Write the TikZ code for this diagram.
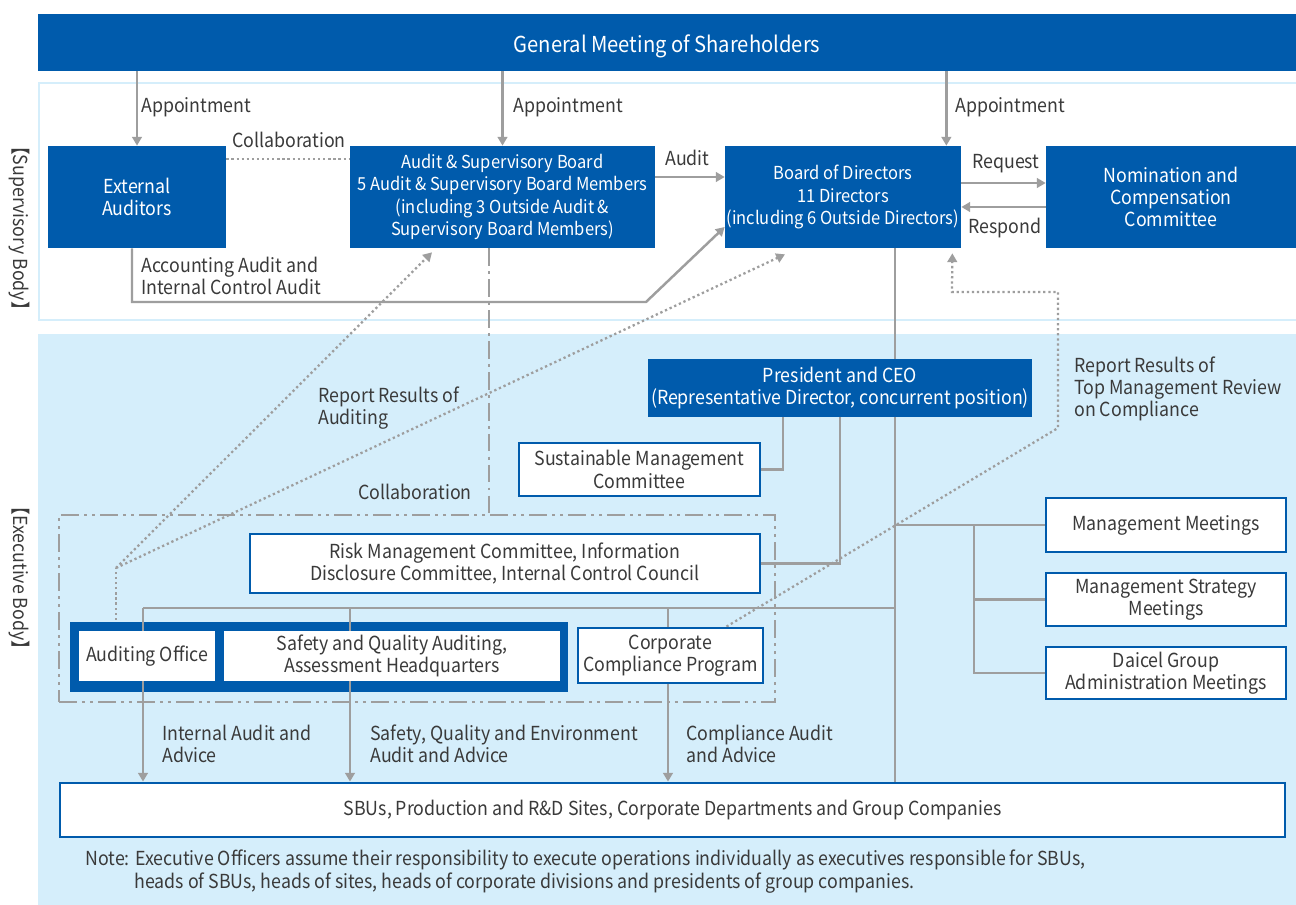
\documentclass[tikz,border=0pt]{standalone}
\usepackage{fontspec}
\setmainfont{Noto Sans CJK JP}[FakeStretch=0.92]
\usetikzlibrary{arrows.meta}
\definecolor{dblue}{RGB}{0,91,172}
\definecolor{lblue}{RGB}{213,238,251}
\definecolor{lgrey}{RGB}{158,158,158}
\definecolor{tgrey}{RGB}{58,58,58}
\pgfdeclarelayer{bg}
\pgfdeclarelayer{lines}
\pgfsetlayers{bg,lines,main}
\begin{document}
\begin{tikzpicture}[x=0.02cm,y=-0.02cm,
  font=\fontsize{11}{12.7}\selectfont,
  sz/.style 2 args={minimum width=#1*0.02cm,minimum height=#2*0.02cm},
  solidbox/.style={fill=dblue,text=white,align=center,inner sep=0pt},
  openbox/.style={fill=white,draw=dblue,line width=1.6pt,text=tgrey,align=center,inner sep=0pt},
  lbl/.style={anchor=west,text=tgrey,align=left,inner sep=0pt},
  link/.style={draw=lgrey,line width=1.4pt},
  arr/.style={link,-{Triangle[width=5.5pt,length=5pt]}},
  dotlink/.style={draw=lgrey,line width=1.3pt,dash pattern=on 1.3pt off 1.6pt},
  dotarr/.style={dotlink,-{Triangle[width=5.5pt,length=5pt]}}]
\useasboundingbox (0,0) rectangle (1296,905);
\begin{pgfonlayer}{bg}
\fill[white] (0,0) rectangle (1296,905);
\fill[lblue] (38,334) rectangle (1296,905);
\draw[lblue,line width=1.7pt] (39,83) rectangle (1298,320);
\node[fill=dblue,inner sep=0pt,sz={498}{70}] (frame) at (319,657) {};
\end{pgfonlayer}

\node[solidbox,sz={1258}{57},font=\fontsize{12.5}{14}\selectfont] (gms) at (667,42.5) {\raisebox{-0.2cm}[0pt][0pt]{General Meeting of Shareholders}};
\node[solidbox,sz={178}{102}] (ext) at (137,197) {External\\Auditors};
\node[solidbox,sz={305}{102},font=\fontsize{10.2}{12.7}\selectfont] (asb) at (502.5,197) {Audit \& Supervisory Board\\5 Audit \& Supervisory Board Members\\(including 3 Outside Audit \&\\Supervisory Board Members)};
\node[solidbox,sz={236}{102},font=\fontsize{10.2}{12.7}\selectfont] (bod) at (843,197) {Board of Directors\\11 Directors\\(including 6 Outside Directors)};
\node[solidbox,sz={250}{102}] (ncc) at (1171,197) {Nomination and\\Compensation\\Committee};
\node[solidbox,sz={384}{58}] (ceo) at (840,388) {President and CEO\\(Representative Director, concurrent position)};
\node[openbox,sz={241}{53}] (smc) at (639.5,469.5) {Sustainable Management\\Committee};
\node[openbox,sz={510}{59}] (risk) at (505,563.5) {Risk Management Committee, Information\\Disclosure Committee, Internal Control Council};
\node[fill=white,text=tgrey,align=center,inner sep=0pt,sz={136}{50}] (aud) at (147,656) {Auditing Office};
\node[fill=white,text=tgrey,align=center,inner sep=0pt,sz={336}{50}] (saf) at (392,656) {Safety and Quality Auditing,\\Assessment Headquarters};
\node[openbox,sz={185}{55}] (ccp) at (670.5,655.5) {Corporate\\Compliance Program};
\node[openbox,sz={240}{54}] (mm) at (1166,525) {Management Meetings};
\node[openbox,sz={240}{53}] (msm) at (1166,599.5) {Management Strategy\\Meetings};
\node[openbox,sz={240}{52}] (dga) at (1166,673) {Daicel Group\\Administration Meetings};
\node[openbox,sz={1225}{54}] (sbu) at (672.5,810) {SBUs, Production and R\&D Sites, Corporate Departments and Group Companies};

\node[rotate=-90,text=tgrey] (supl) at (19,228) {【Supervisory Body】};
\node[rotate=-90,text=tgrey] (exel) at (19,578) {【Executive Body】};

\node[lbl] (ap1) at (141,107) {Appointment};
\node[lbl] (ap2) at (513,107) {Appointment};
\node[lbl] (ap3) at (955,107) {Appointment};
\node[lbl] (col1) at (232,140) {Collaboration};
\node[lbl] (audl) at (665,158) {Audit};
\node[lbl] (req) at (972,164) {Request};
\node[lbl] (resp) at (968,228) {Respond};
\node[lbl] (accl) at (141,276) {Accounting Audit and\\Internal Control Audit};
\node[lbl] (repl) at (318,408) {Report Results of\\Auditing};
\node[lbl] (col2) at (358,492) {Collaboration};
\node[lbl] (topl) at (1074,389) {Report Results of\\Top Management Review\\on Compliance};
\node[lbl] (ial) at (162,744) {Internal Audit and\\Advice};
\node[lbl] (sql) at (370,744) {Safety, Quality and Environment\\Audit and Advice};
\node[lbl] (cal) at (686,744) {Compliance Audit\\and Advice};
\node[lbl,anchor=north west] (note) at (85,850) {Note: Executive Officers assume their responsibility to execute operations individually as executives responsible for SBUs,\\\hspace*{0.98cm}heads of SBUs, heads of sites, heads of corporate divisions and presidents of group companies.};

\begin{pgfonlayer}{lines}
\node[draw=lgrey,line width=1.6pt,dash pattern=on 10pt off 3pt on 1.6pt off 3pt on 1.6pt off 3pt,sz={716}{187}] (execbox) at (417,608.5) {};
\draw[arr] (gms.south -| ext.north) -- (ext.north);
\draw[arr] (gms.south -| asb.north) -- (asb.north);
\draw[arr] ([xshift=-0.3cm]bod.north east |- gms.south) -- ([xshift=-0.3cm]bod.north east);
\draw[dotlink] ([yshift=0.76cm]ext.east) -- ([yshift=0.76cm]asb.west);
\draw[arr] ([yshift=0.4cm]asb.east) -- ([yshift=0.4cm]bod.west);
\draw[arr] ([yshift=0.28cm]bod.east) -- ([yshift=0.28cm]ncc.west);
\draw[arr] ([yshift=-0.2cm]ncc.west) -- ([yshift=-0.2cm]bod.west -| bod.east);
\coordinate (accbend) at (646,302);
\draw[arr] ([xshift=-0.1cm]ext.south) |- (accbend) -- ([yshift=-0.6cm]bod.west);
\draw[link,dash pattern=on 10pt off 3pt on 1.6pt off 3pt] ([xshift=-0.27cm]asb.south) -- ([xshift=-0.27cm]asb.south |- execbox.north);
\coordinate (audtop) at (116,620);
\coordinate (audbend) at (116,568);
\draw[dotlink] (audtop) -- (audbend);
\draw[dotarr] (audbend) -- ([xshift=-1.41cm,yshift=-0.08cm]asb.south);
\draw[dotarr] (audbend) -- ([xshift=-1.16cm,yshift=-0.12cm]bod.south);
\draw[dotarr] ([xshift=1.12cm]ccp.north) -- (1058,428) |- (952,292) -- ([xshift=-0.18cm,yshift=-0.1cm]bod.south east);
\coordinate (trunk) at ([xshift=1.04cm]bod.south);
\draw[link] (trunk) -- (trunk |- sbu.north);
\draw[link] (trunk |- mm.west) -- (mm.west);
\coordinate (mtg) at (974,525);
\draw[link] (mtg) |- (dga.west);
\draw[link] (mtg |- msm.west) -- (msm.west);
\draw[link] ([xshift=-1.14cm]ceo.south) |- (smc.east);
\draw[link] (ceo.south) |- (risk.east);
\coordinate (bar) at (143,608);
\draw[link] (trunk |- bar) -- (bar);
\foreach \x in {143,350,668}
  \draw[arr] (\x,608) coordinate (d) -- (d |- sbu.north);
\end{pgfonlayer}
\end{tikzpicture}
\end{document}
